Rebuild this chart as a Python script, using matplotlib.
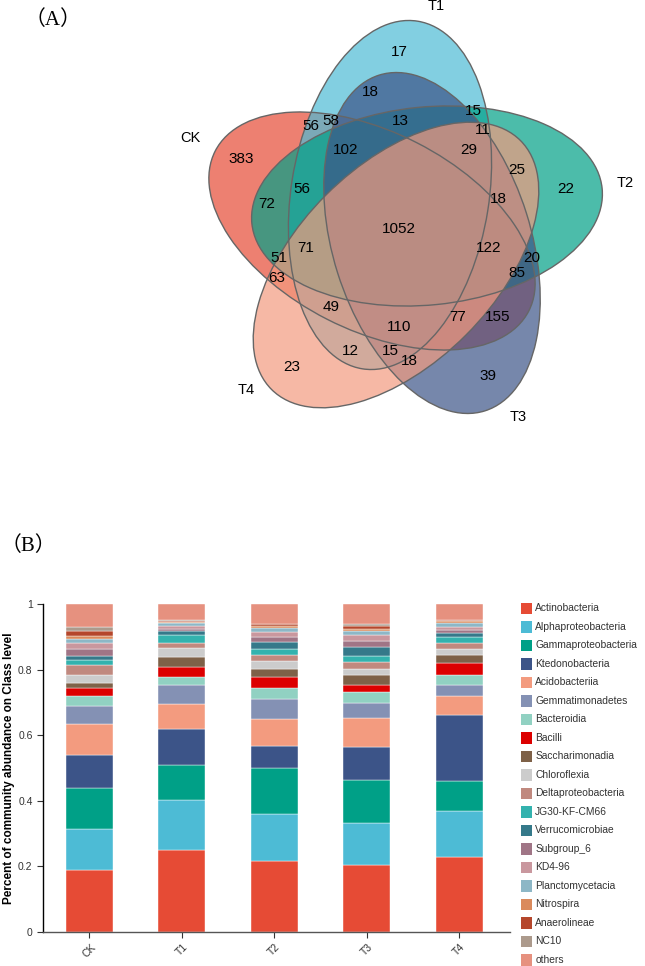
import matplotlib
matplotlib.use('Agg')
import matplotlib.pyplot as plt
from matplotlib.patches import Ellipse, Rectangle
import numpy as np

plt.rcParams['font.family'] = ['Liberation Sans', 'DejaVu Sans']

# ---------------- data ----------------
set_names = ['CK', 'T1', 'T2', 'T3', 'T4']
set_colors = ['#E64B35', '#4DBBD5', '#00A087', '#3C5488', '#F39B7F']

venn_counts = [383, 17, 22, 39, 23, 56, 58, 18, 13, 15, 11, 102, 29, 25, 56, 72,
               18, 1052, 71, 122, 51, 20, 63, 85, 49, 77, 155, 110, 12, 15, 18]

groups = ['CK', 'T1', 'T2', 'T3', 'T4']
classes = ['Actinobacteria', 'Alphaproteobacteria', 'Gammaproteobacteria',
           'Ktedonobacteria', 'Acidobacteriia', 'Gemmatimonadetes', 'Bacteroidia',
           'Bacilli', 'Saccharimonadia', 'Chloroflexia', 'Deltaproteobacteria',
           'JG30-KF-CM66', 'Verrucomicrobiae', 'Subgroup_6', 'KD4-96',
           'Planctomycetacia', 'Nitrospira', 'Anaerolineae', 'NC10', 'others']

actinobacteria      = [0.188, 0.250, 0.217, 0.203, 0.227]
alphaproteobacteria = [0.126, 0.152, 0.142, 0.130, 0.140]
gammaproteobacteria = [0.125, 0.107, 0.140, 0.130, 0.092]
ktedonobacteria     = [0.101, 0.109, 0.068, 0.102, 0.203]
acidobacteriia      = [0.094, 0.077, 0.081, 0.087, 0.057]
gemmatimonadetes    = [0.055, 0.057, 0.062, 0.047, 0.035]
bacteroidia         = [0.030, 0.026, 0.034, 0.032, 0.028]
bacilli             = [0.025, 0.031, 0.032, 0.023, 0.039]
saccharimonadia     = [0.016, 0.030, 0.027, 0.028, 0.022]
chloroflexia        = [0.022, 0.027, 0.024, 0.021, 0.019]
deltaproteobacteria = [0.031, 0.016, 0.016, 0.020, 0.018]
jg30_kf_cm66        = [0.016, 0.022, 0.021, 0.018, 0.020]
verrucomicrobiae    = [0.012, 0.013, 0.020, 0.029, 0.012]
subgroup_6          = [0.023, 0.008, 0.014, 0.018, 0.009]
kd4_96              = [0.018, 0.008, 0.017, 0.016, 0.010]
planctomycetacia    = [0.010, 0.010, 0.012, 0.013, 0.010]
nitrospira          = [0.010, 0.002, 0.006, 0.008, 0.006]
anaerolineae        = [0.015, 0.004, 0.005, 0.008, 0.003]
nc10                = [0.012, 0.002, 0.002, 0.006, 0.001]
others              = [0.071, 0.049, 0.060, 0.061, 0.049]

class_colors = ['#E64B35', '#4DBBD5', '#00A087', '#3C5488', '#F39B7F', '#8491B4',
                '#91D1C2', '#DC0000', '#7E6148', '#CCCCCC', '#C0897F', '#33B2AE',
                '#35798A', '#A07586', '#C9979E', '#8DB7C6', '#DA8A5C', '#B5472C',
                '#AC9A8C', '#E6917F']

# ---------------- layout ----------------
W, H = 645, 966
# ellipse geometry (pixel units): centre x, centre y, angle
ell_geom = [(372, 231, 27), (390, 195, -81), (427, 206, -5.7),
            (432, 243, 72.5), (396, 265, -45)]
ell_a, ell_b = 176, 99
set_label_xy = [(190, 138), (436, 6), (625, 183), (518, 417), (246, 390)]
venn_label_xy = [(241.7, 159.3), (399.3, 51.7), (565.8, 189.3), (487.7, 376), (291.7, 366.7),
                 (310.7, 125.7), (330.7, 121), (370, 91.7), (400, 121), (473.3, 111),
                 (482.7, 130), (345.7, 150), (468.3, 150), (516.5, 170), (301.7, 189),
                 (266.7, 204.3), (498, 199), (399.3, 229), (305.7, 248.3), (488.3, 248.3),
                 (279, 258.3), (531.7, 257.7), (276.7, 277.7), (516.5, 272.7), (330.7, 307.3),
                 (457.7, 316.7), (498, 316.7), (399.3, 326.7), (350.7, 351), (390, 351),
                 (409.3, 361)]

fig = plt.figure(figsize=(W / 100, H / 100), dpi=100)

ov = fig.add_axes([0, 0, 1, 1])
ov.set_xlim(0, W)
ov.set_ylim(H, 0)
ov.axis('off')

for (cx, cy, ang), col in zip(ell_geom, set_colors):
    ov.add_patch(Ellipse((cx, cy), 2 * ell_a, 2 * ell_b, angle=ang,
                         facecolor=col, alpha=0.7, edgecolor='none'))
for (cx, cy, ang) in ell_geom:
    ov.add_patch(Ellipse((cx, cy), 2 * ell_a, 2 * ell_b, angle=ang,
                         facecolor='none', edgecolor='#666666', lw=1.0))
for name, (x, y) in zip(set_names, set_label_xy):
    ov.text(x, y, name, ha='center', va='center', fontsize=10.5, color='black')
for cnt, (x, y) in zip(venn_counts, venn_label_xy):
    ov.text(x, y, str(cnt), ha='center', va='center', fontsize=11, color='black')

panel_font = ['Liberation Serif', 'Noto Sans CJK SC', 'DejaVu Serif']
ov.text(52.5, 20, '（A）', ha='center', va='center', fontsize=15, family=panel_font)
ov.text(28, 546, '（B）', ha='center', va='center', fontsize=15, family=panel_font)

# ---------------- stacked bars ----------------
series = [actinobacteria, alphaproteobacteria, gammaproteobacteria, ktedonobacteria,
          acidobacteriia, gemmatimonadetes, bacteroidia, bacilli, saccharimonadia,
          chloroflexia, deltaproteobacteria, jg30_kf_cm66, verrucomicrobiae, subgroup_6,
          kd4_96, planctomycetacia, nitrospira, anaerolineae, nc10, others]

ax = fig.add_axes([43 / W, (H - 931.7) / H, 467 / W, 327.7 / H])
x = np.arange(len(groups))
bottom = np.zeros(len(groups))
for vals, col, name in zip(series, class_colors, classes):
    v = np.array(vals)
    ax.bar(x, v, bottom=bottom, width=0.51, color=col, edgecolor='white',
           linewidth=0.3, label=name)
    bottom += v

ax.set_xlim(-0.503, 4.55)
ax.set_ylim(0, 1)
ax.set_yticks([0, 0.2, 0.4, 0.6, 0.8, 1])
ax.set_yticklabels(['0', '0.2', '0.4', '0.6', '0.8', '1'])
ax.set_xticks(x)
ax.set_xticklabels(groups, rotation=45, ha='center')
ax.tick_params(axis='both', labelsize=7.5, length=4, width=0.8, colors='#333333',
               direction='out')
for s in ['top', 'right']:
    ax.spines[s].set_visible(False)
ax.spines['left'].set_color('black')
ax.spines['bottom'].set_color('#555555')
ax.spines['left'].set_linewidth(1.0)
ax.spines['bottom'].set_linewidth(1.0)
ax.set_ylabel('Percent of community abundance on Class level', fontsize=8.5,
              fontweight='bold')
ax.yaxis.set_label_coords((15 - 43) / 467, 0.5)

# ---------------- legend ----------------
leg_x, leg_y0, leg_dy, sq = 520.7, 608.3, 18.5, 11.6
for i, (name, col) in enumerate(zip(classes, class_colors)):
    y = leg_y0 + i * leg_dy
    ov.add_patch(Rectangle((leg_x, y - sq / 2), sq, sq, facecolor=col, edgecolor='none'))
    ov.text(leg_x + sq + 3, y, name, ha='left', va='center', fontsize=7.4, color='#333333')

fig.savefig('out.png', dpi=100)
